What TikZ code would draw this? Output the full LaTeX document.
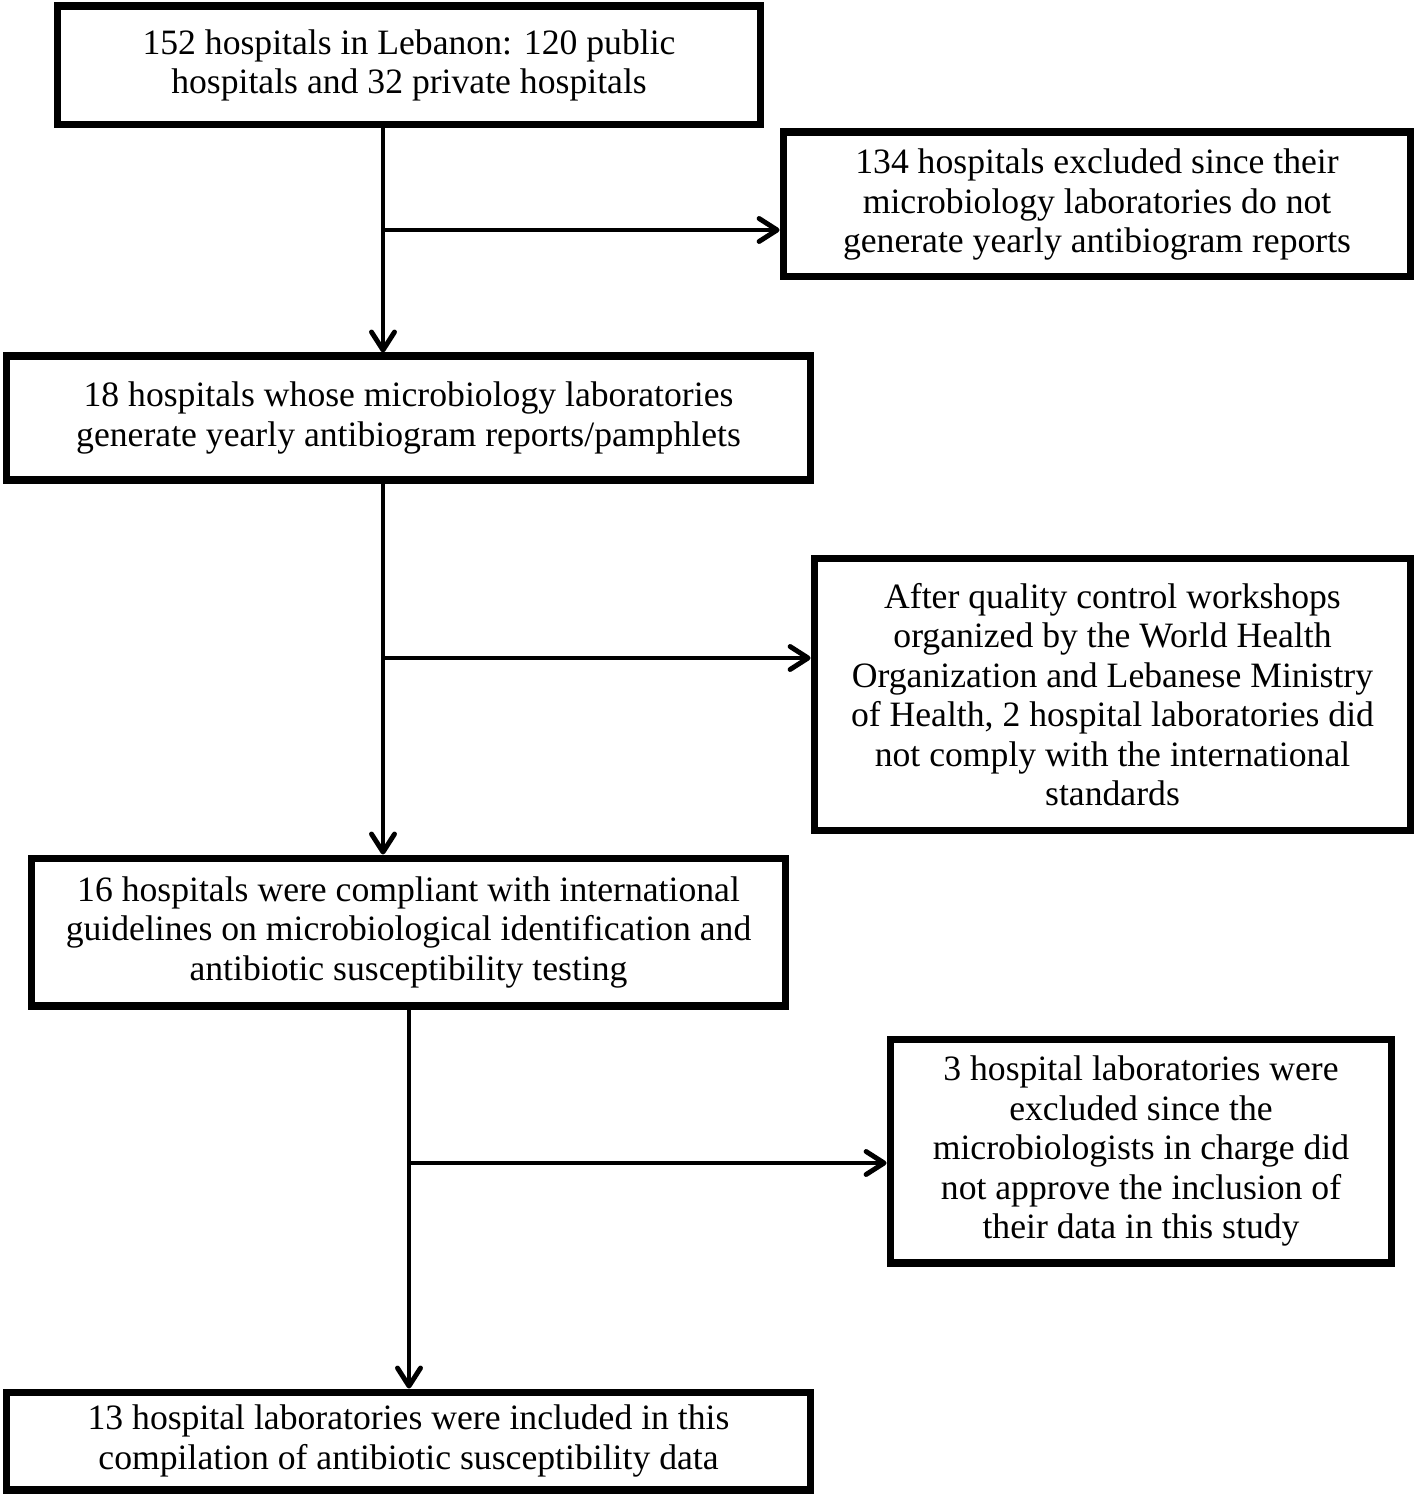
\documentclass[tikz,border=0pt]{standalone}
\usepackage{fontspec}
\setmainfont{Liberation Serif}
\usetikzlibrary{arrows.meta}
\begin{document}
\begin{tikzpicture}[x=0.02cm,y=-0.02cm,
  box/.style={draw,line width=4pt,align=center,inner sep=0pt,
    font=\fontsize{20.3}{22.5}\selectfont},
  arr/.style={line width=2.8pt,-{Straight Barb[length=0.36cm,width=0.46cm,line cap=round,line join=round]}}]
\useasboundingbox (0,0) rectangle (1418,1496);
\node[box,minimum width=14.08cm,minimum height=2.38cm] (b1) at (409,65.5)
  {152 hospitals in Lebanon: 120 public\\hospitals and 32 private hospitals};
\node[box,minimum width=12.56cm,minimum height=2.9cm] (b2) at (1097,204.5)
  {134 hospitals excluded since their\\microbiology laboratories do not\\generate yearly antibiogram reports};
\node[box,minimum width=16.1cm,minimum height=2.48cm] (b3) at (408.5,418)
  {18 hospitals whose microbiology laboratories\\generate yearly antibiogram reports/pamphlets};
\node[box,minimum width=11.94cm,minimum height=5.46cm] (b4) at (1112.5,694.5)
  {After quality control workshops\\organized by the World Health\\Organization and Lebanese Ministry\\of Health, 2 hospital laboratories did\\not comply with the international\\standards};
\node[box,minimum width=15.1cm,minimum height=2.96cm] (b5) at (408.5,932)
  {16 hospitals were compliant with international\\guidelines on microbiological identification and\\antibiotic susceptibility testing};
\node[box,minimum width=10.04cm,minimum height=4.48cm] (b6) at (1141,1151)
  {3 hospital laboratories were\\excluded since the\\microbiologists in charge did\\not approve the inclusion of\\their data in this study};
\node[box,minimum width=16.1cm,minimum height=1.96cm] (b7) at (408.5,1441)
  {13 hospital laboratories were included in this\\compilation of antibiotic susceptibility data};
\coordinate (v1) at (383,230);
\coordinate (v2) at (383,658);
\coordinate (v3) at (409,1163);
\draw[arr] (b1.south -| v1) -- (b3.north -| v1);
\draw[arr] (v1) -- (v1 -| b2.west);
\draw[arr] (b3.south -| v2) -- (b5.north -| v2);
\draw[arr] (v2) -- (v2 -| b4.west);
\draw[arr] (b5.south -| v3) -- (b7.north -| v3);
\draw[arr] (v3) -- (v3 -| b6.west);
\end{tikzpicture}
\end{document}
